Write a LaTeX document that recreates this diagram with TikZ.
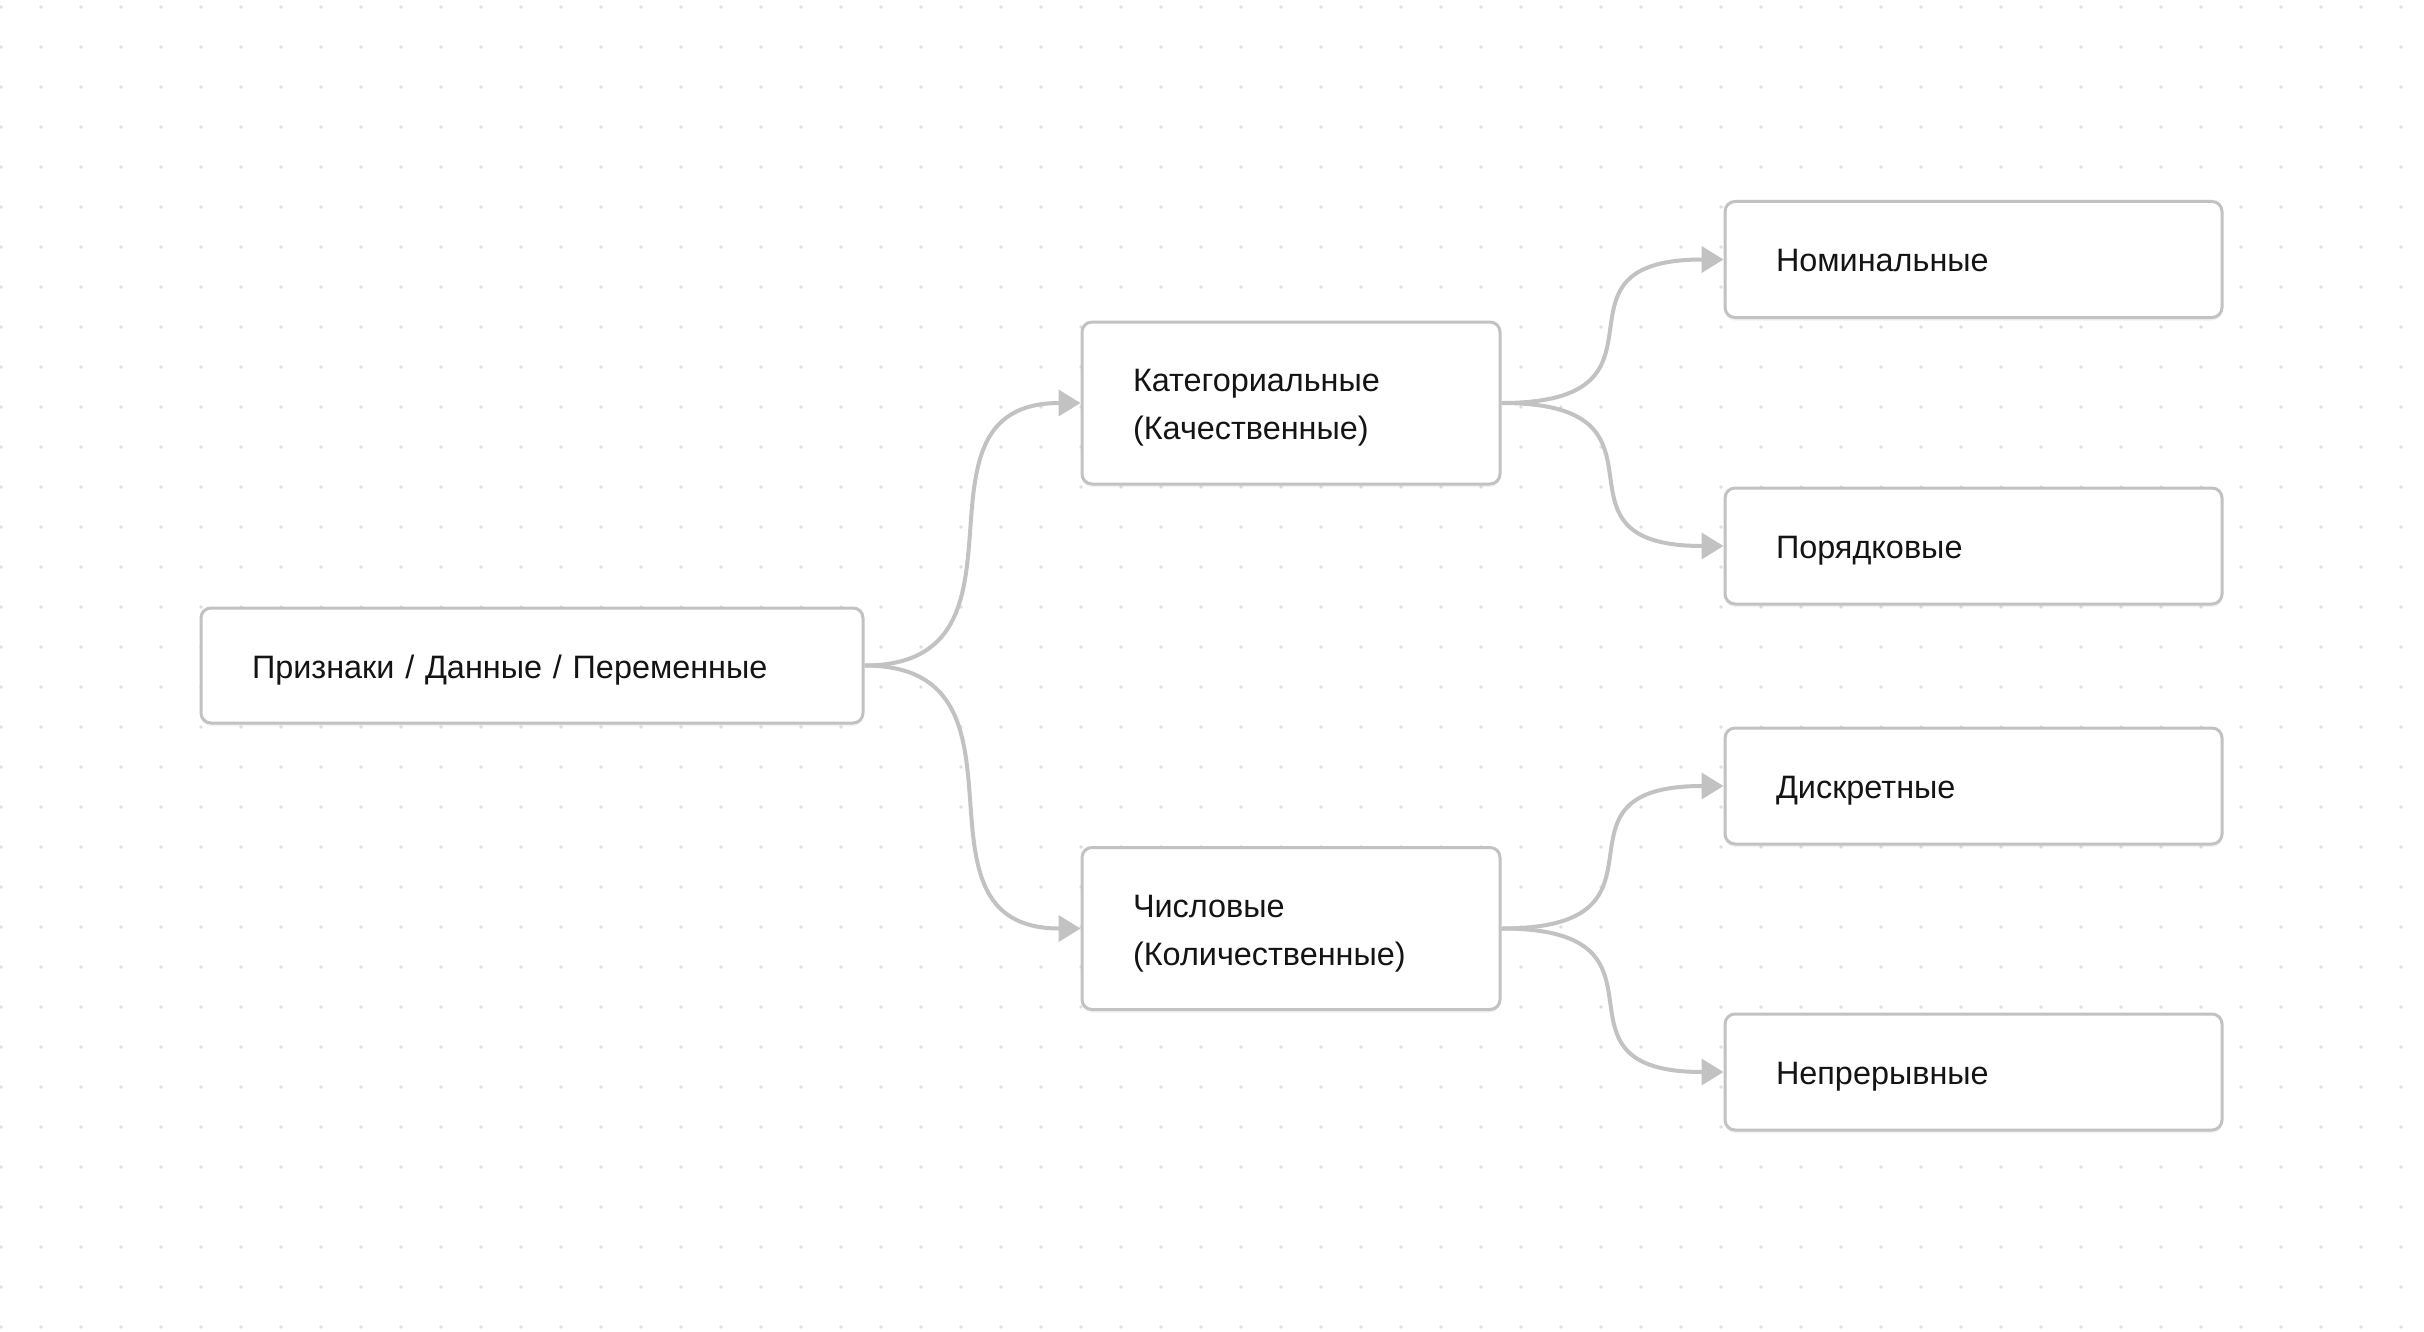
\documentclass[tikz,border=0pt]{standalone}
\usepackage{fontspec}
\setmainfont{Liberation Sans}
\usetikzlibrary{arrows.meta,shadows}
\definecolor{edgegray}{HTML}{C2C2C2}
\definecolor{dotgray}{HTML}{DEDEDE}
\definecolor{textdark}{HTML}{141414}
\tikzset{
  box/.style={draw=edgegray, line width=3pt, rounded corners=10pt, fill=white,
    drop shadow={opacity=0.10, shadow xshift=0pt, shadow yshift=-3pt},
    inner xsep=51pt, inner ysep=0pt, align=left, text=textdark,
    font=\fontsize{32.4}{48}\selectfont, anchor=center, text height=25pt},
  rootbox/.style={box, minimum width=662pt, minimum height=115pt, text width=560pt, text depth=0pt},
  midbox/.style={box, minimum width=418pt, minimum height=162pt, text width=316pt, text depth=48pt},
  leafbox/.style={box, minimum width=497pt, minimum height=116pt, text width=395pt, text depth=0pt},
  conn/.style={draw=edgegray, line width=4pt, -{Triangle[length=22pt,width=26pt]}},
}
\begin{document}
\begin{tikzpicture}[x=1pt,y=-1pt]
\useasboundingbox (0,0) rectangle (2424,1332);
\fill[white] (0,0) rectangle (2424,1332);
\foreach \i in {0,...,60}{
  \foreach \j in {0,...,33}{
    \fill[dotgray] ({1+40*\i},{7+40*\j}) circle (1.8pt);
  }
}
\node[rootbox] (root) at (532,665.5) {Признаки / Данные / Переменные};
\node[midbox] (cat) at (1291,403) {Категориальные\\(Качественные)};
\node[midbox] (num) at (1291,928.5) {Числовые\\(Количественные)};
\node[leafbox] (nom) at (1973.5,259.5) {Номинальные};
\node[leafbox] (ord) at (1973.5,546) {Порядковые};
\node[leafbox] (disc) at (1973.5,786) {Дискретные};
\node[leafbox] (cont) at (1973.5,1072) {Непрерывные};
\draw[conn] (root.east) .. controls +(186,0) and +(-186,0) .. (cat.west);
\draw[conn] (root.east) .. controls +(186,0) and +(-186,0) .. (num.west);
\draw[conn] (cat.east) .. controls +(191,0) and +(-191,0) .. (nom.west);
\draw[conn] (cat.east) .. controls +(191,0) and +(-191,0) .. (ord.west);
\draw[conn] (num.east) .. controls +(191,0) and +(-191,0) .. (disc.west);
\draw[conn] (num.east) .. controls +(191,0) and +(-191,0) .. (cont.west);
\end{tikzpicture}
\end{document}
